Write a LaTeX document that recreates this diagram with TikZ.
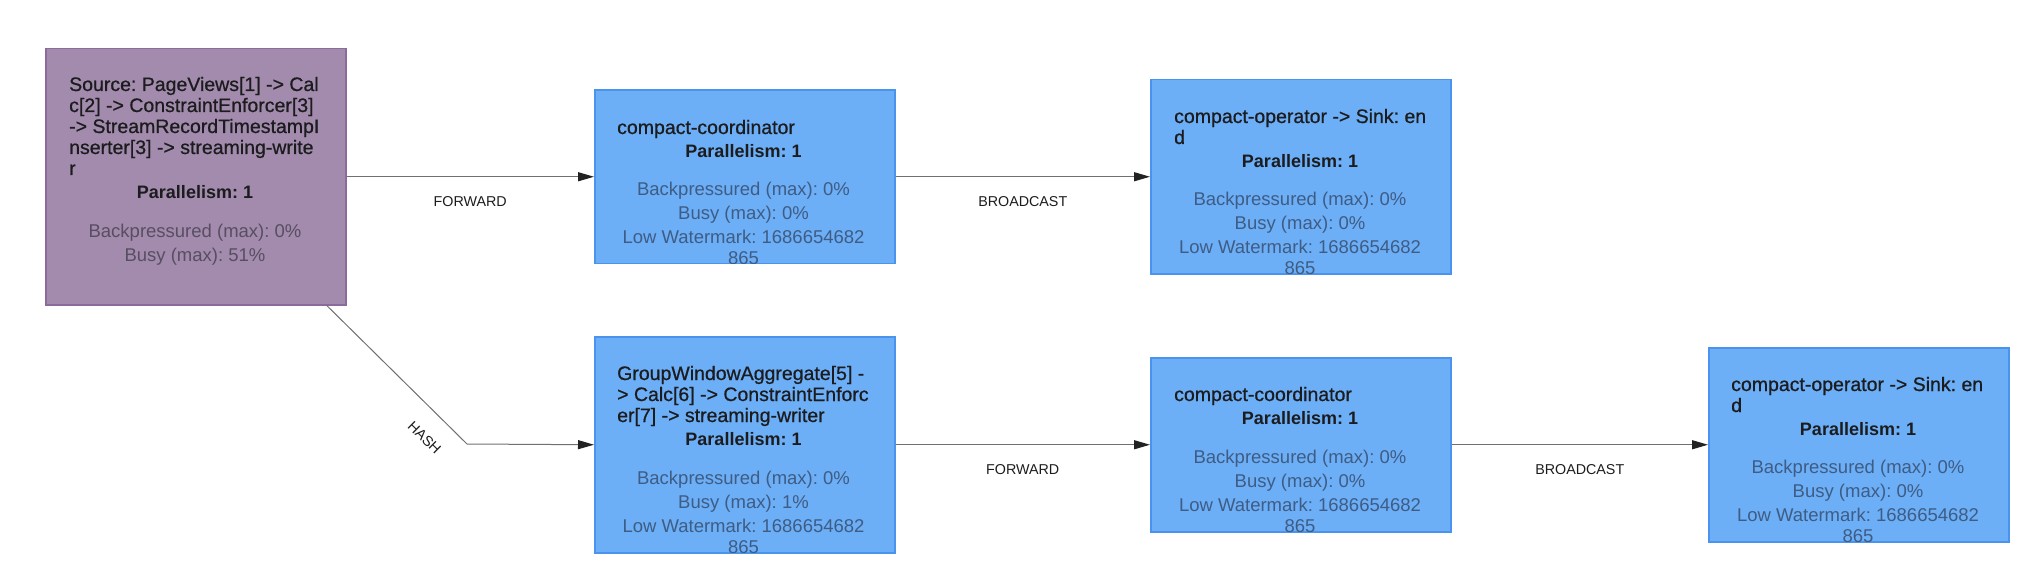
\documentclass[tikz,border=0pt]{standalone}
\usepackage{fontspec}
\setmainfont{Liberation Sans}
\newfontfamily\medfont[FakeBold=0.7]{Liberation Sans}
\usetikzlibrary{arrows.meta}
\definecolor{purfill}{HTML}{A28BAD}
\definecolor{purline}{HTML}{8B6B9B}
\definecolor{bluefill}{HTML}{6CAFF7}
\definecolor{blueline}{HTML}{4A94F0}
\definecolor{bluetxt}{HTML}{3E5C84}
\definecolor{purtxt}{HTML}{584E62}
\definecolor{darktxt}{HTML}{1C1C1E}
\definecolor{edgegray}{HTML}{707070}
\definecolor{tipgray}{HTML}{222222}
\frenchspacing
\begin{document}
\begin{tikzpicture}[x=1pt,y=-1pt,
  opbox/.style={line width=1.5pt, minimum width=300pt, inner sep=0pt, anchor=north west},
  purbox/.style={opbox, draw=purline, fill=purfill},
  bluebox/.style={opbox, draw=blueline, fill=bluefill},
  ttl/.style={anchor=base west, inner sep=0pt, text=darktxt, font=\fontsize{19.5}{21}\medfont\frenchspacing},
  par/.style={anchor=base, inner sep=0pt, text=darktxt, font=\fontsize{18}{21}\selectfont\bfseries\frenchspacing},
  met/.style={anchor=base, inner sep=0pt, font=\fontsize{18.5}{21}\selectfont\frenchspacing},
  pmet/.style={met, text=purtxt},
  bmet/.style={met, text=bluetxt},
  edge/.style={draw=edgegray, line width=1.2pt, -{Triangle[length=16pt,width=9pt,color=tipgray]}},
  elabel/.style={midway, yshift=-25pt, inner sep=0pt, text=darktxt, font=\fontsize{14.3}{16}\selectfont}
]
\useasboundingbox (0,0) rectangle (2028,588);

% boxes
\node[purbox, minimum height=256pt] (src) at (45,48) {};
\node[bluebox, minimum height=173pt] (c1) at (594,89.5) {};
\node[bluebox, minimum height=194pt] (k1) at (1150,79) {};
\node[bluebox, minimum height=216pt] (g) at (594,336) {};
\node[bluebox, minimum height=174pt] (c2) at (1150,357) {};
\node[bluebox, minimum height=194pt] (k2) at (1708,347) {};

% source text
\begin{scope}
\clip ([xshift=1pt,yshift=1pt]src.south west) rectangle ([xshift=-1pt,yshift=-1pt]src.north east);
\node[ttl] (src-t1) at (69,91) {Source: PageViews[1] -> Cal};
\node[ttl] (src-t2) at (69,112) {c[2] -> ConstraintEnforcer[3]};
\node[ttl] (src-t3) at (69,133) {-> StreamRecordTimestampI};
\node[ttl] (src-t4) at (69,154) {nserter[3] -> streaming-write};
\node[ttl] (src-t5) at (69,175) {r};
\node[par] (src-p) at (195,198.5) {Parallelism: 1};
\node[pmet] (src-m1) at (195,237.5) {Backpressured (max): 0\%};
\node[pmet] (src-m2) at (195,261.5) {Busy (max): 51\%};
\end{scope}

% compact-coordinator top
\begin{scope}
\clip ([xshift=1pt,yshift=1pt]c1.south west) rectangle ([xshift=-1pt,yshift=-1pt]c1.north east);
\node[ttl] (c1-t1) at (617,134) {compact-coordinator};
\node[par] (c1-p) at (743.5,157.5) {Parallelism: 1};
\node[bmet] (c1-m1) at (743.5,195.5) {Backpressured (max): 0\%};
\node[bmet] (c1-m2) at (743.5,219.5) {Busy (max): 0\%};
\node[bmet] (c1-m3) at (743.5,243.5) {Low Watermark: 1686654682};
\node[bmet] (c1-m4) at (743.5,264.5) {865};
\end{scope}

% compact-operator top
\begin{scope}
\clip ([xshift=1pt,yshift=1pt]k1.south west) rectangle ([xshift=-1pt,yshift=-1pt]k1.north east);
\node[ttl] (k1-t1) at (1174,123) {compact-operator -> Sink: en};
\node[ttl] (k1-t2) at (1174,144) {d};
\node[par] (k1-p) at (1300,167.5) {Parallelism: 1};
\node[bmet] (k1-m1) at (1300,205.5) {Backpressured (max): 0\%};
\node[bmet] (k1-m2) at (1300,229.5) {Busy (max): 0\%};
\node[bmet] (k1-m3) at (1300,253.5) {Low Watermark: 1686654682};
\node[bmet] (k1-m4) at (1300,274.5) {865};
\end{scope}

% GroupWindowAggregate
\begin{scope}
\clip ([xshift=1pt,yshift=1pt]g.south west) rectangle ([xshift=-1pt,yshift=-1pt]g.north east);
\node[ttl] (g-t1) at (617,380) {GroupWindowAggregate[5] -};
\node[ttl] (g-t2) at (617,401) {> Calc[6] -> ConstraintEnforc};
\node[ttl] (g-t3) at (617,422) {er[7] -> streaming-writer};
\node[par] (g-p) at (743.5,445.5) {Parallelism: 1};
\node[bmet] (g-m1) at (743.5,484.5) {Backpressured (max): 0\%};
\node[bmet] (g-m2) at (743.5,508.5) {Busy (max): 1\%};
\node[bmet] (g-m3) at (743.5,532.5) {Low Watermark: 1686654682};
\node[bmet] (g-m4) at (743.5,553.5) {865};
\end{scope}

% compact-coordinator bottom
\begin{scope}
\clip ([xshift=1pt,yshift=1pt]c2.south west) rectangle ([xshift=-1pt,yshift=-1pt]c2.north east);
\node[ttl] (c2-t1) at (1174,401) {compact-coordinator};
\node[par] (c2-p) at (1300,424.5) {Parallelism: 1};
\node[bmet] (c2-m1) at (1300,463.5) {Backpressured (max): 0\%};
\node[bmet] (c2-m2) at (1300,487.5) {Busy (max): 0\%};
\node[bmet] (c2-m3) at (1300,511.5) {Low Watermark: 1686654682};
\node[bmet] (c2-m4) at (1300,532.5) {865};
\end{scope}

% compact-operator bottom
\begin{scope}
\clip ([xshift=1pt,yshift=1pt]k2.south west) rectangle ([xshift=-1pt,yshift=-1pt]k2.north east);
\node[ttl] (k2-t1) at (1731,391) {compact-operator -> Sink: en};
\node[ttl] (k2-t2) at (1731,412) {d};
\node[par] (k2-p) at (1858,435.5) {Parallelism: 1};
\node[bmet] (k2-m1) at (1858,473.5) {Backpressured (max): 0\%};
\node[bmet] (k2-m2) at (1858,497.5) {Busy (max): 0\%};
\node[bmet] (k2-m3) at (1858,521.5) {Low Watermark: 1686654682};
\node[bmet] (k2-m4) at (1858,542.5) {865};
\end{scope}

% connectors
\draw[edge] (src.east) -- node[elabel] (l1) {FORWARD} (c1.west);
\draw[edge] (c1.east) -- node[elabel] (l2) {BROADCAST} (k1.west);
\draw[edge] (g.east) -- node[elabel] (l3) {FORWARD} (c2.west);
\draw[edge] (c2.east) -- node[elabel] (l4) {BROADCAST} (k2.west);
\coordinate (hc) at (467,444);
\draw[edge, line width=1pt] ([xshift=131pt]src.south) -- (hc) -- (g.west);
\node[rotate=-44.6, inner sep=0pt, text=darktxt, font=\fontsize{14.3}{16}\selectfont] (l5) at (424.5,437.5) {HASH};
\end{tikzpicture}
\end{document}
